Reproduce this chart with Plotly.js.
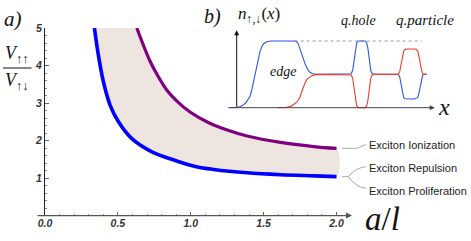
<!DOCTYPE html>
<html>
<head>
<meta charset="utf-8">
<script src="https://cdn.plot.ly/plotly-3.0.1.min.js"></script>
<style>html,body{margin:0;padding:0;background:#fff}#chart{width:471px;height:241px}</style>
</head>
<body>
<div id="chart"></div>
<script>
// ---- main panel data (a) ----
const blueX   = [0.339, 0.366, 0.401, 0.447, 0.504, 0.596, 0.733, 0.893, 1.031, 1.157, 1.386, 1.615, 1.844, 2.0];
const blueY   = [5.0,   4.28,  3.56,  2.94,  2.50,  2.05,  1.70,  1.47,  1.31,  1.23,  1.14,  1.09,  1.06,  1.04];
const purpleX = [0.630, 0.674, 0.720, 0.766, 0.835, 0.903, 0.995, 1.120, 1.250, 1.386, 1.615, 1.844, 2.0];
const purpleY = [5.0,   4.55,  4.12,  3.78,  3.35,  3.06,  2.76,  2.48,  2.28,  2.12,  1.95,  1.84,  1.79];
const xTickVals = [0, 0.5, 1.0, 1.5, 2.0];
const xTickText = ['0.0', '0.5', '1.0', '1.5', '2.0'];
const yTickVals = [1, 2, 3, 4, 5];
const yTickText = ['1', '2', '3', '4', '5'];
const legendLabels = ['Exciton Ionization', 'Exciton Repulsion', 'Exciton Proliferation'];

// ---- inset data (b) ----
const insetBlueX = [-0.85, -0.3, 0.0, 0.3, 0.6, 0.9, 1.1, 1.33, 1.5, 1.65, 1.83, 2.0, 2.15, 2.33, 2.5, 2.7, 3.0, 3.4,
  5.8, 6.0, 6.15, 6.33, 6.5, 6.65, 6.83, 7.0, 7.15, 7.33, 7.6, 8.0,
  11.2, 11.45, 11.6, 11.7, 11.8, 11.9, 12.0, 12.15, 12.85, 13.0, 13.1, 13.2, 13.3, 13.4, 13.55, 13.8,
  16.0, 16.2, 16.3, 16.4, 16.5, 16.6, 16.7, 16.85, 17.05, 17.75, 17.95, 18.1, 18.2, 18.3, 18.4, 18.5, 18.6, 18.8, 19.0];
const insetBlueY = [0.0, 0.0, 0.005, 0.015, 0.035, 0.07, 0.11, 0.17, 0.26, 0.36, 0.49, 0.62, 0.73, 0.84, 0.91, 0.96, 0.99, 1.0,
  1.0, 0.99, 0.96, 0.89, 0.81, 0.74, 0.66, 0.60, 0.56, 0.53, 0.51, 0.5,
  0.5, 0.51, 0.56, 0.66, 0.80, 0.91, 0.97, 1.0, 1.0, 0.97, 0.91, 0.80, 0.66, 0.56, 0.51, 0.5,
  0.5, 0.49, 0.46, 0.38, 0.28, 0.20, 0.15, 0.135, 0.13, 0.13, 0.135, 0.15, 0.20, 0.28, 0.38, 0.46, 0.49, 0.5, 0.5];
const insetRedX = [4.16, 5.0, 5.4, 5.66, 5.9, 6.1, 6.33, 6.5, 6.65, 6.83, 7.0, 7.2, 7.5, 8.0,
  11.2, 11.45, 11.6, 11.7, 11.8, 11.9, 12.0, 12.15, 12.85, 13.0, 13.1, 13.2, 13.3, 13.4, 13.55, 13.8,
  16.0, 16.2, 16.3, 16.4, 16.5, 16.6, 16.7, 16.85, 17.05, 17.75, 17.95, 18.1, 18.2, 18.3, 18.4, 18.5, 18.6, 18.8, 19.0];
const insetRedY = [0.0, 0.005, 0.02, 0.04, 0.07, 0.10, 0.16, 0.24, 0.31, 0.37, 0.42, 0.45, 0.48, 0.5,
  0.5, 0.49, 0.44, 0.34, 0.20, 0.09, 0.03, 0.0, 0.0, 0.03, 0.09, 0.20, 0.34, 0.44, 0.49, 0.5,
  0.5, 0.51, 0.54, 0.62, 0.72, 0.80, 0.85, 0.875, 0.88, 0.88, 0.875, 0.85, 0.80, 0.72, 0.62, 0.54, 0.51, 0.5, 0.5];
const dotX = [5.8, 18.5];
const dotY = [1, 1];

// ---- layout helpers (pixel -> paper; margins are zero so paper = figure) ----
const W = 471, H = 241;
const px = x => x / W;
const py = y => 1 - y / H;
const P = (x, y) => px(x).toFixed(5) + ',' + py(y).toFixed(5);

const fillX = blueX.concat(purpleX.slice().reverse());
const fillY = blueY.concat(purpleY.slice().reverse());

const traces = [
  {x: fillX, y: fillY, type: 'scatter', mode: 'lines', fill: 'toself',
   fillcolor: '#EEE5E0', line: {width: 0, shape: 'spline'}, hoverinfo: 'skip', xaxis: 'x', yaxis: 'y'},
  {x: purpleX, y: purpleY, type: 'scatter', mode: 'lines',
   line: {color: '#800080', width: 3.2, shape: 'spline'}, xaxis: 'x', yaxis: 'y'},
  {x: blueX, y: blueY, type: 'scatter', mode: 'lines',
   line: {color: '#0000FF', width: 3.6, shape: 'spline'}, xaxis: 'x', yaxis: 'y'},
  {x: dotX, y: dotY, type: 'scatter', mode: 'lines',
   line: {color: '#999', width: 1, dash: 'dot'}, xaxis: 'x2', yaxis: 'y2'},
  {x: insetBlueX, y: insetBlueY, type: 'scatter', mode: 'lines',
   line: {color: 'rgb(45,85,225)', width: 1.1}, xaxis: 'x2', yaxis: 'y2'},
  {x: insetRedX, y: insetRedY, type: 'scatter', mode: 'lines',
   line: {color: 'rgb(240,60,40)', width: 1.1}, xaxis: 'x2', yaxis: 'y2'}
];

const tickFont = {family: 'Liberation Sans, Arial, sans-serif', size: 10.5, weight: 'bold', style: 'italic', color: '#333'};
const serif = 'Liberation Serif, Times New Roman, DejaVu Serif, serif';

const minorX = [];
for (let i = 1; i < 20; i++) { if (i % 5 !== 0) minorX.push(i / 10); }

const ann = [];
function txt(t, x, y, size, opts) {
  ann.push(Object.assign({text: t, xref: 'paper', yref: 'paper', x: px(x), y: py(y),
    xanchor: 'center', yanchor: 'middle', showarrow: false,
    font: {family: serif, size: size, color: '#111'}}, opts || {}));
}
txt('<i>a)</i>', 13, 19, 21);
txt('<i>V</i><sub>↑↑</sub>', 17, 55, 18);
txt('<i>V</i><sub>↑↓</sub>', 17, 81, 18);
txt('<i>b)</i>', 212, 17, 20);
txt('<i>n</i><sub>↑,↓</sub>(<i>x</i>)', 259, 15, 17);
txt('<i>q.hole</i>', 358, 20, 14);
txt('<i>q.particle</i>', 425, 20, 15);
txt('<i>edge</i>', 283, 71, 14);
txt('<i>x</i>', 444, 107, 24);
txt('<i>a</i>/<i>l</i>', 382, 219, 33);
const legY = [145, 168, 190.5];
legendLabels.forEach((t, i) => txt(t, 367, legY[i], 11,
  {xanchor: 'left', font: {family: 'Liberation Sans, Arial, sans-serif', size: 11, color: '#222'}}));

// main x axis line with arrow
ann.push({text: '', xref: 'paper', yref: 'paper', x: px(352), y: py(215.6), ax: -316, ay: 0,
  showarrow: true, arrowhead: 2, arrowsize: 1, arrowwidth: 1.2, arrowcolor: '#555'});
// inset axes arrows
ann.push({text: '', xref: 'x2', yref: 'y2', axref: 'x2', ayref: 'y2', x: 19.8, y: 0, ax: -0.85, ay: 0,
  showarrow: true, arrowhead: 2, arrowsize: 1, arrowwidth: 1, arrowcolor: '#444'});
ann.push({text: '', xref: 'x2', yref: 'y2', axref: 'x2', ayref: 'y2', x: 0, y: 1.16, ax: 0, ay: -0.01,
  showarrow: true, arrowhead: 2, arrowsize: 1, arrowwidth: 1, arrowcolor: '#111'});

const shapes = [
  {type: 'line', xref: 'paper', yref: 'paper', x0: px(3), x1: px(31.5), y0: py(68), y1: py(68),
   line: {color: '#111', width: 1}},
  {type: 'path', xref: 'paper', yref: 'paper',
   path: 'M' + P(342, 148.3) + ' L' + P(356.7, 148.3) + ' L' + P(366, 144.5),
   line: {color: '#aaa', width: 1}},
  {type: 'path', xref: 'paper', yref: 'paper',
   path: 'M' + P(342, 176.7) + ' L' + P(348.3, 176.7) + ' Q' + P(356, 167.5) + ' ' + P(366, 166.7),
   line: {color: '#aaa', width: 1}},
  {type: 'path', xref: 'paper', yref: 'paper',
   path: 'M' + P(348.3, 176.7) + ' Q' + P(356, 187.5) + ' ' + P(366, 188.3),
   line: {color: '#aaa', width: 1}}
];

const layout = {
  width: W, height: H,
  margin: {l: 0, r: 0, t: 0, b: 0},
  paper_bgcolor: '#fff', plot_bgcolor: 'rgba(0,0,0,0)',
  showlegend: false,
  xaxis: {domain: [px(45), px(352)], range: [0, 2.106], showline: false, zeroline: false, showgrid: false,
    tickmode: 'array', tickvals: xTickVals, ticktext: xTickText, ticks: 'inside', ticklen: 4, tickwidth: 1,
    tickcolor: '#666', tickfont: tickFont,
    minor: {tickmode: 'array', tickvals: minorX, ticks: 'inside', ticklen: 2, tickcolor: '#888', showgrid: false}},
  yaxis: {domain: [py(215.6), py(28)], range: [0, 5], showline: true, linecolor: '#222', linewidth: 1,
    zeroline: false, showgrid: false,
    tickmode: 'array', tickvals: yTickVals, ticktext: yTickText, ticks: 'inside', ticklen: 4, tickwidth: 1,
    tickcolor: '#666', tickfont: tickFont,
    minor: {dtick: 0.2, tick0: 0, ticks: 'inside', ticklen: 2, tickcolor: '#888', showgrid: false}},
  xaxis2: {domain: [px(216.7), px(456.7)], range: [-2, 22], visible: false, anchor: 'y2'},
  yaxis2: {domain: [py(127.71), py(21.0)], range: [-0.3, 1.3], visible: false, anchor: 'x2'},
  annotations: ann,
  shapes: shapes
};

Plotly.newPlot('chart', traces, layout, {displayModeBar: false, staticPlot: true});
</script>
</body>
</html>
